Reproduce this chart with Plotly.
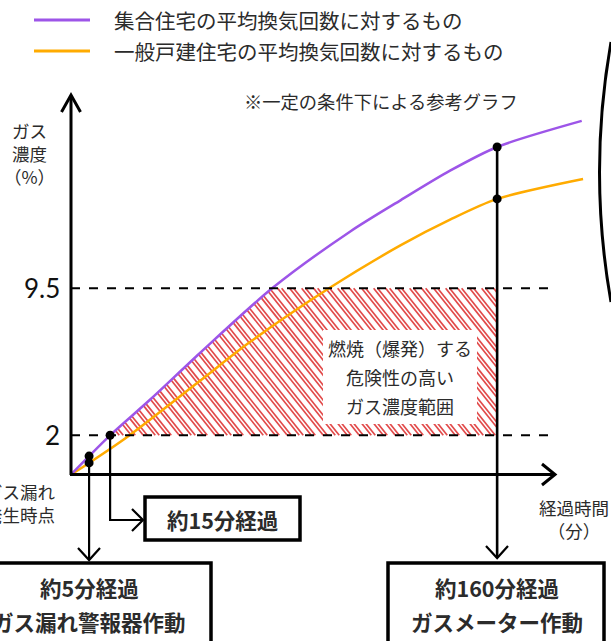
import numpy as np
import plotly.graph_objects as go

# ---------------- data (schematic time units / gas concentration %) ----------------
series_names = ["集合住宅の平均換気回数に対するもの", "一般戸建住宅の平均換気回数に対するもの"]
purple_x = [0, 6.8, 14.7, 30, 48.5, 75.6, 105, 124, 142.5, 160.2, 192]
purple_y = [0, 0.94, 2.0, 3.85, 6.2, 9.5, 12.4, 14.0, 15.5, 16.71, 18.04]
orange_x = [0, 6.8, 21, 48.5, 67, 97, 124, 142.5, 160.2, 192.5]
orange_y = [0, 0.59, 1.9, 4.78, 6.73, 9.5, 11.7, 13.0, 14.06, 15.08]

event_x = [6.8, 14.7, 160.2]          # positions of the 5 / 15 / 160 minute events
event_labels = ["約5分経過<br>ガス漏れ警報器作動", "約15分経過", "約160分経過<br>ガスメーター作動"]
danger_band = [2, 9.5]
ytick_vals = [2, 9.5]
ytick_text = ["2", "9.5"]
danger_text = ["燃焼（爆発）する", "危険性の高い", "ガス濃度範囲"]

PURPLE = "#9d55e8"
ORANGE = "#ffab00"
RED = "#e24a4a"
FONT = "Noto Sans CJK JP"

# ---------------- pixel helpers (layout only) ----------------
W, H = 611, 641
X0, Y0 = 71.0, 474.5
KX, KY = 2.66, 19.6


def X(p):
    return (p - X0) / KX


def Y(p):
    return (Y0 - p) / KY


fig = go.Figure()

# ---------------- hatch of the danger range ----------------
a, P, g = 0.8, 12.0, 4.0
ys = np.linspace(danger_band[0], danger_band[1], 600)
left_x = np.interp(ys, purple_y, purple_x)
right_x = event_x[2]
ypx = Y0 - ys * KY
hx, hy = [], []
for base in np.arange(X0 - a * 480, X0 + right_x * KX + 20, P):
    for c in (base, base + g):
        xd = (c + a * ypx - X0) / KX
        ok = (xd >= left_x) & (xd <= right_x)
        if ok.any():
            idx = np.where(ok)[0]
            i0, i1 = idx[0], idx[-1]
            hx += [xd[i0], xd[i1], None]
            hy += [ys[i0], ys[i1], None]
fig.add_trace(go.Scatter(x=hx, y=hy, mode="lines", line=dict(color=RED, width=1.7),
                         hoverinfo="skip", showlegend=False))

# ---------------- curves ----------------
fig.add_trace(go.Scatter(x=orange_x, y=orange_y, mode="lines", name=series_names[1],
                         line=dict(color=ORANGE, width=2.5, shape="spline", smoothing=0.8),
                         showlegend=False))
fig.add_trace(go.Scatter(x=purple_x, y=purple_y, mode="lines", name=series_names[0],
                         line=dict(color=PURPLE, width=2.5, shape="spline", smoothing=0.8),
                         showlegend=False))

shapes = []
# dashed level lines
for v in danger_band:
    shapes.append(dict(type="line", xref="x", yref="y", x0=0, x1=X(557), y0=v, y1=v,
                       line=dict(color="black", width=2, dash="dash"), layer="above"))

# event connector lines
p_at = lambda xs, ys_, xv: ys_[xs.index(xv)]
y5 = p_at(purple_x, purple_y, event_x[0])
y15 = p_at(purple_x, purple_y, event_x[1])
y160 = p_at(purple_x, purple_y, event_x[2])
LW = 2.2
shapes.append(dict(type="line", xref="x", yref="y", x0=event_x[0], x1=event_x[0], y0=y5, y1=Y(560),
                   line=dict(color="black", width=LW)))
shapes.append(dict(type="path", xref="x", yref="y",
                   path=f"M {X(89-11)},{Y(548)} L {event_x[0]},{Y(560)} L {X(89+11)},{Y(548)}",
                   line=dict(color="black", width=LW)))
shapes.append(dict(type="path", xref="x", yref="y",
                   path=f"M {event_x[1]},{y15} L {event_x[1]},{Y(520)} L {X(143)},{Y(520)}",
                   line=dict(color="black", width=LW)))
shapes.append(dict(type="path", xref="x", yref="y",
                   path=f"M {X(132)},{Y(509)} L {X(143)},{Y(520)} L {X(132)},{Y(531)}",
                   line=dict(color="black", width=LW)))
shapes.append(dict(type="line", xref="x", yref="y", x0=event_x[2], x1=event_x[2], y0=y160, y1=Y(558),
                   line=dict(color="black", width=2.6)))
shapes.append(dict(type="path", xref="x", yref="y",
                   path=f"M {X(497-11)},{Y(546)} L {event_x[2]},{Y(558)} L {X(497+11)},{Y(546)}",
                   line=dict(color="black", width=LW)))

# axes with arrow heads
shapes.append(dict(type="line", xref="x", yref="y", x0=0, x1=0, y0=Y(475), y1=Y(96),
                   line=dict(color="black", width=3)))
shapes.append(dict(type="path", xref="x", yref="y",
                   path=f"M {X(61.5)},{Y(112)} L {X(71)},{Y(95)} L {X(80.5)},{Y(112)}",
                   line=dict(color="black", width=3)))
shapes.append(dict(type="line", xref="x", yref="y", x0=X(70), x1=X(554), y0=0, y1=0,
                   line=dict(color="black", width=3)))
shapes.append(dict(type="path", xref="x", yref="y",
                   path=f"M {X(542)},{Y(464)} L {X(555)},{Y(474.5)} L {X(542)},{Y(485)}",
                   line=dict(color="black", width=3)))

# boxes
for (bx0, by0, bx1, by1) in [(145, 497, 300, 540), (-10, 563, 211, 680), (388, 563, 604, 680)]:
    shapes.append(dict(type="rect", xref="x", yref="y", x0=X(bx0), x1=X(bx1), y0=Y(by0), y1=Y(by1),
                       line=dict(color="black", width=3.5), fillcolor="white", layer="above"))

# white box behind danger text
shapes.append(dict(type="rect", xref="x", yref="y", x0=X(323), x1=X(477), y0=Y(330), y1=Y(424),
                   line=dict(width=0), fillcolor="white", layer="above"))

# legend line samples
shapes.append(dict(type="line", xref="x", yref="y", x0=X(34), x1=X(90), y0=Y(20), y1=Y(20),
                   line=dict(color=PURPLE, width=3)))
shapes.append(dict(type="line", xref="x", yref="y", x0=X(34), x1=X(90), y0=Y(51), y1=Y(51),
                   line=dict(color=ORANGE, width=3)))

# decorative curve at the right edge
shapes.append(dict(type="path", xref="x", yref="y",
                   path=f"M {X(611)},{Y(42)} Q {X(588)},{Y(172)} {X(611)},{Y(302)}",
                   line=dict(color="black", width=3)))

# ---------------- points ----------------
fig.add_trace(go.Scatter(
    x=[event_x[0], event_x[0], event_x[1], event_x[2], event_x[2]],
    y=[y5, p_at(orange_x, orange_y, event_x[0]), y15, y160, p_at(orange_x, orange_y, event_x[2])],
    mode="markers", marker=dict(color="black", size=9), showlegend=False, hoverinfo="skip"))

# ---------------- texts ----------------
ann = []
TXT = "#2b2b2b"


def t(px, py, text, size, anchor="center", bold=False, color=TXT, align=None):
    ann.append(dict(x=X(px), y=Y(py), xref="x", yref="y", text=(f"<b>{text}</b>" if bold else text),
                    showarrow=False, xanchor=anchor, yanchor="middle", align=align or anchor,
                    font=dict(family=FONT, size=size, color=color)))


t(112, 20, series_names[0], 20.5, "left")
t(112, 51, series_names[1], 20.5, "left")
t(381, 101, "※一定の条件下による参考グラフ", 18.3)
t(29, 153, "ガス<br>濃度<br>（%）", 17.5)
for v, s in zip(ytick_vals, ytick_text):
    ann.append(dict(x=X(62), y=v, xref="x", yref="y", text=s, showarrow=False, xanchor="right",
                    yanchor="middle", font=dict(family="Lato", size=26, color="#111")))
t(58, 503, "ガス漏れ<br>発生時点", 17.5, "right")
t(574, 519, "経過時間<br>（分）", 17.5, "center")
for i, s in enumerate(danger_text):
    t(400, 348 + 29 * i, s, 18)
t(222, 519, event_labels[1], 21.5, bold=True)
for i, s in enumerate(event_labels[0].split("<br>")):
    t(89, 587 + 34 * i, s, 21.5, bold=True)
for i, s in enumerate(event_labels[2].split("<br>")):
    t(497, 587 + 34 * i, s, 21.5, bold=True)

fig.update_layout(
    width=W, height=H, autosize=False,
    margin=dict(l=0, r=0, t=0, b=0),
    paper_bgcolor="white", plot_bgcolor="white",
    xaxis=dict(range=[X(0), X(W)], visible=False, fixedrange=True),
    yaxis=dict(range=[Y(H), Y(0)], visible=False, fixedrange=True),
    shapes=shapes, annotations=ann, showlegend=False,
)

fig.write_html("out.html", config={"displayModeBar": False},
               post_script="document.body.style.margin='0px';document.body.style.overflow='hidden';")
